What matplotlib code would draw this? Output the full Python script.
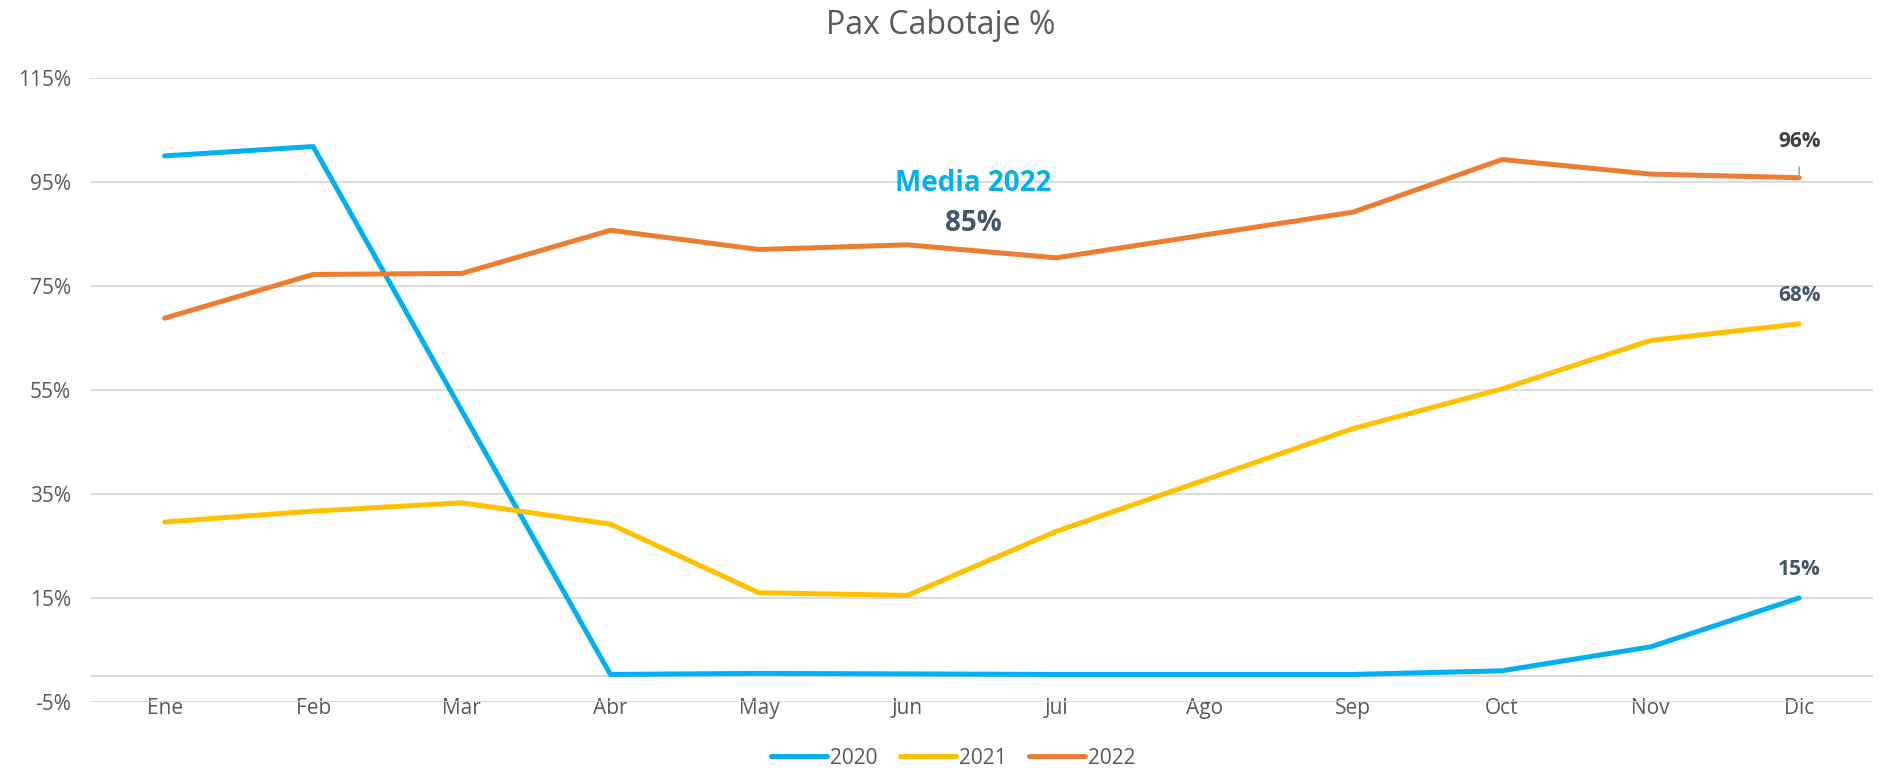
import matplotlib.pyplot as plt

plt.rcParams['font.family'] = ['Open Sans', 'DejaVu Sans']

meses = ['Ene', 'Feb', 'Mar', 'Abr', 'May', 'Jun', 'Jul', 'Ago', 'Sep', 'Oct', 'Nov', 'Dic']
pax_2020 = [100.0, 101.8, 51.0, 0.3, 0.5, 0.4, 0.3, 0.3, 0.3, 1.0, 5.6, 15.0]
pax_2021 = [29.6, 31.7, 33.3, 29.2, 16.0, 15.5, 27.8, 37.7, 47.6, 55.2, 64.5, 67.7]
pax_2022 = [68.8, 77.2, 77.4, 85.7, 82.0, 82.9, 80.4, 84.8, 89.2, 99.3, 96.5, 95.8]
yticks = [-5, 15, 35, 55, 75, 95, 115]

media_2022 = sum(pax_2022) / len(pax_2022)

fig = plt.figure(figsize=(18.81, 7.71), dpi=100)
ax = fig.add_axes([0.048, 0.0895, 0.948, 0.8095])

x = range(len(meses))
ax.plot(x, pax_2020, color='#00B0F0', lw=3.6, label='2020', solid_capstyle='round')
ax.plot(x, pax_2021, color='#FFC000', lw=3.6, label='2021', solid_capstyle='round')
ax.plot(x, pax_2022, color='#ED7D31', lw=3.6, label='2022', solid_capstyle='round')

ax.set_xlim(-0.5, 11.5)
ax.set_ylim(-5, 115)
ax.set_yticks(yticks)
ax.set_yticklabels([f'{t}%' for t in yticks])
ax.set_xticks(list(x))
ax.set_xticklabels(meses)
ax.tick_params(axis='both', length=0, labelsize=15, colors='#595959')
ax.tick_params(axis='y', pad=14)
ax.tick_params(axis='x', pad=-3)
ax.grid(axis='y', color='#D9D9D9', lw=1.3)
ax.axhline(0, color='#D9D9D9', lw=1.3, zorder=0)
ax.set_axisbelow(True)
for s in ax.spines.values():
    s.set_visible(False)

# etiquetas del ultimo mes
ax.annotate(f'{pax_2022[-1]:.0f}%', (11, pax_2022[-1]), xytext=(11, pax_2022[-1] + 7),
            ha='center', va='center', fontsize=15, fontweight='bold', color='#404040',
            arrowprops=dict(arrowstyle='-', color='#A6A6A6', lw=1.2, shrinkA=9, shrinkB=0))
ax.text(11, pax_2021[-1] + 5.5, f'{pax_2021[-1]:.0f}%', ha='center', va='center',
        fontsize=15, fontweight='bold', color='#44546A')
ax.text(11, pax_2020[-1] + 5.5, f'{pax_2020[-1]:.0f}%', ha='center', va='center',
        fontsize=15, fontweight='bold', color='#44546A')

ax.text(5.44, 94.6, 'Media 2022', ha='center', va='center', fontsize=20,
        fontweight='bold', color='#00B0F0')
ax.text(5.44, 87.0, f'{media_2022:.0f}%', ha='center', va='center', fontsize=20,
        fontweight='bold', color='#44546A')

fig.suptitle('Pax Cabotaje %', y=0.988, fontsize=23, color='#595959')

leg = ax.legend(loc='center', bbox_to_anchor=(0.484, -0.09), ncol=3, frameon=False,
                fontsize=15, handlelength=2.7, columnspacing=1.05, handletextpad=0.15)
for t in leg.get_texts():
    t.set_color('#595959')

plt.savefig('out.png', dpi=100)
